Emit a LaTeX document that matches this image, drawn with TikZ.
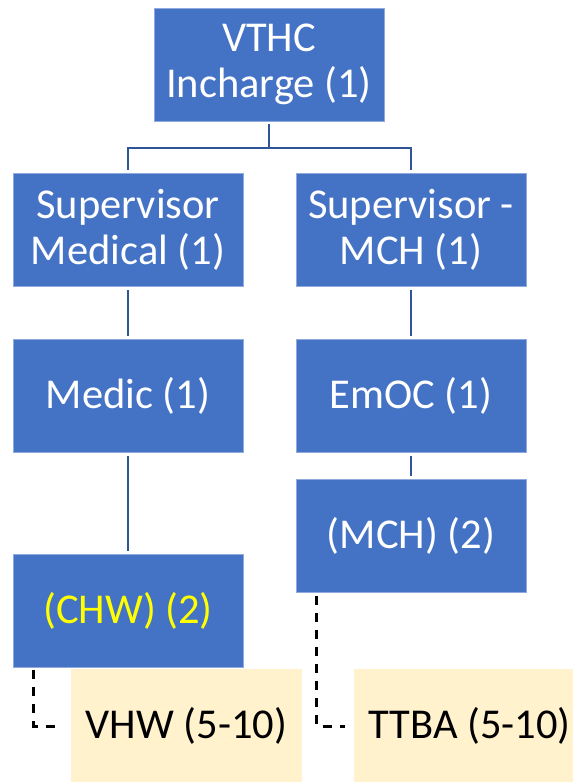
\documentclass[tikz,border=0pt]{standalone}
\usepackage{fontspec}
\setmainfont{Carlito}
\definecolor{boxblue}{HTML}{4472C4}
\definecolor{boxedge}{HTML}{8FAADC}
\definecolor{linkblue}{HTML}{2F5597}
\definecolor{peach}{HTML}{FFF2CC}
\definecolor{txtyellow}{HTML}{FFFF00}
\begin{document}
\begin{tikzpicture}[x=1pt,y=-1pt,
  bluebox/.style={rectangle, fill=boxblue, draw=boxedge, line width=0.6pt,
    minimum width=230pt, minimum height=113pt, inner sep=0pt,
    text=white, align=center, font=\fontsize{42.5}{46}\selectfont},
  peachbox/.style={rectangle, fill=peach, draw=none,
    minimum width=231pt, minimum height=114pt, inner sep=0pt,
    text=black, align=center, font=\fontsize{42.5}{46}\selectfont},
  link/.style={draw=linkblue, line width=2pt, shorten <=3pt, shorten >=3pt},
  dashlink/.style={draw=black, line width=3pt, dash pattern=on 9pt off 8pt}]
\useasboundingbox (0,0) rectangle (573,782);
\fill[white] (0,0) rectangle (573,782);
\node[bluebox] (top) at (269,64.5) {VTHC\\Incharge (1)};
\node[bluebox] (supmed) at (128,230) {Supervisor\\Medical (1)};
\node[bluebox] (supmch) at (411,230) {Supervisor -\\MCH (1)};
\node[bluebox] (medic) at (128,396) {Medic (1)};
\node[bluebox] (emoc) at (411,396) {EmOC (1)};
\node[bluebox, text=txtyellow] (chw) at (128,610.5) {(CHW) (2)};
\node[bluebox] (mch) at (411,536) {(MCH) (2)};
\node[peachbox] (vhw) at (186.5,726) {VHW (5-10)};
\node[peachbox] (ttba) at (469.5,726) {TTBA (5-10)};
\coordinate (bus) at (269,148);
\draw[link, line width=2.5pt, shorten >=0pt] (top.south) -- (bus);
\draw[link, line width=2.5pt, shorten <=0pt] (bus) -| (supmed.north);
\draw[link, line width=2.5pt, shorten <=0pt] (bus) -| (supmch.north);
\draw[link] (supmed.south) -- (medic.north);
\draw[link] (supmch.south) -- (emoc.north);
\draw[link] (medic.south) -- (chw.north);
\draw[link] (emoc.south) -- (mch.north);
\draw[dashlink] ([xshift=21pt,yshift=-3pt]chw.south west) |- ([xshift=-9pt]vhw.west);
\draw[dashlink] ([xshift=21pt,yshift=-3pt]mch.south west) |- ([xshift=-9pt]ttba.west);
\end{tikzpicture}
\end{document}
